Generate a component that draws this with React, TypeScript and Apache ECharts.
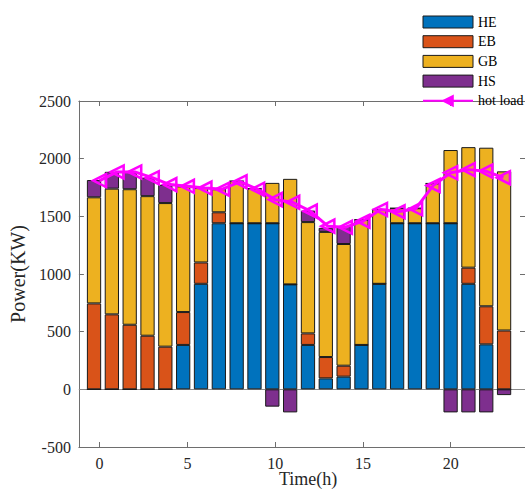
import React, { useEffect, useRef } from "react";
import * as echarts from "echarts";

const hours = [0,1,2,3,4,5,6,7,8,9,10,11,12,13,14,15,16,17,18,19,20,21,22,23];
const HE = [0,0,0,0,0,385,915,1440,1440,1440,1440,910,385,95,110,385,915,1440,1440,1440,1440,915,390,0];
const EB = [745,650,560,465,370,285,185,95,0,0,0,0,100,185,95,0,0,0,0,0,0,140,330,510];
const GB = [920,1090,1175,1210,1245,1090,645,200,365,300,350,915,965,1085,1055,1085,645,130,130,345,635,1045,1375,1380];
const HS = [150,146,152,160,158,0,0,0,0,0,-150,-200,100,35,150,0,0,0,0,0,-200,-200,-200,-50];
const hotLoad = [1810,1885,1885,1835,1775,1760,1745,1735,1800,1735,1645,1622,1545,1415,1405,1458,1560,1540,1565,1768,1878,1905,1892,1835];
const xTicks = [0,5,10,15,20];
const names = ["HE","EB","GB","HS","hot load"];
const colors = ["#0072BD","#D95319","#EDB120","#7E2F8E"];

const FONT = "'Liberation Serif', 'Times New Roman', serif";

// axis extents (hours) of the plot box
const X_MIN = -1.18;
const X_MAX = 24.23;
const GRID_LEFT = 73;
const GRID_WIDTH = 453;
const GRID_TOP = 101;
const GRID_HEIGHT = 346;

export default function App() {
  const ref = useRef<HTMLDivElement>(null);
  useEffect(() => {
    if (!ref.current) return;
    const chart = echarts.init(ref.current, null, { renderer: "svg" });
    const pxPerHour = GRID_WIDTH / (X_MAX - X_MIN);
    const barLeft = GRID_LEFT + (hours[0] - 0.5 - X_MIN) * pxPerHour;
    const barWidthPx = hours.length * pxPerHour;

    const barSeries = [HE, EB, GB, HS].map((arr, k) => ({
      name: names[k],
      type: "bar",
      stack: "total",
      xAxisIndex: 2,
      yAxisIndex: 2,
      barWidth: "80%",
      z: 2,
      data: arr,
      itemStyle: { color: colors[k], borderColor: "#1a1a1a", borderWidth: 1 },
    }));
    const axisLine = { show: true, onZero: false, lineStyle: { color: "#6e6e6e", width: 1 } };
    const tick = { show: true, inside: true, length: 5, lineStyle: { color: "#6e6e6e" } };
    chart.setOption({
      animation: false,
      grid: [
        { left: GRID_LEFT, top: GRID_TOP, width: GRID_WIDTH, height: GRID_HEIGHT, containLabel: false },
        { left: barLeft, top: GRID_TOP, width: barWidthPx, height: GRID_HEIGHT, containLabel: false },
      ],
      legend: {
        orient: "vertical",
        left: 417,
        top: 10,
        itemWidth: 50,
        itemHeight: 12,
        itemGap: 5.7,
        textStyle: { fontFamily: FONT, fontSize: 14, color: "#000" },
        data: [
          { name: "HE", icon: "rect", itemStyle: { borderColor: "#1a1a1a", borderWidth: 1 } },
          { name: "EB", icon: "rect", itemStyle: { borderColor: "#1a1a1a", borderWidth: 1 } },
          { name: "GB", icon: "rect", itemStyle: { borderColor: "#1a1a1a", borderWidth: 1 } },
          { name: "HS", icon: "rect", itemStyle: { borderColor: "#1a1a1a", borderWidth: 1 } },
          { name: "hot load", itemStyle: { color: "#FF00FF", borderColor: "#FF00FF" } },
        ],
      },
      xAxis: [
        {
          type: "value",
          gridIndex: 0,
          min: X_MIN,
          max: X_MAX,
          position: "bottom",
          axisLine,
          splitLine: { show: false },
          axisTick: { ...tick, customValues: xTicks },
          axisLabel: { customValues: xTicks, fontFamily: FONT, fontSize: 16, color: "#262626", margin: 8 },
        },
        {
          type: "value",
          gridIndex: 0,
          min: X_MIN,
          max: X_MAX,
          position: "top",
          axisLine,
          splitLine: { show: false },
          axisTick: { ...tick, customValues: xTicks },
          axisLabel: { show: false },
        },
        {
          type: "category",
          gridIndex: 1,
          data: hours.map(String),
          boundaryGap: true,
          show: false,
        },
      ],
      yAxis: [
        {
          type: "value",
          gridIndex: 0,
          min: -500,
          max: 2500,
          interval: 500,
          position: "left",
          axisLine,
          splitLine: { show: false },
          axisTick: tick,
          axisLabel: { fontFamily: FONT, fontSize: 16, color: "#262626", margin: 8, formatter: (v: number) => String(v) },
          name: "Power(KW)",
          nameLocation: "middle",
          nameGap: 44,
          nameTextStyle: { fontFamily: FONT, fontSize: 20, color: "#262626" },
        },
        {
          type: "value",
          gridIndex: 0,
          min: -500,
          max: 2500,
          interval: 500,
          position: "right",
          axisLine,
          splitLine: { show: false },
          axisTick: tick,
          axisLabel: { show: false },
        },
        {
          type: "value",
          gridIndex: 1,
          min: -500,
          max: 2500,
          interval: 500,
          show: false,
          splitLine: { show: false },
        },
      ],
      graphic: [
        {
          type: "text",
          left: 310 - 31,
          top: 470,
          style: { text: "Time(h)", font: `18px ${FONT}`, fill: "#262626" },
        },
      ],
      series: [
        ...barSeries,
        {
          name: "hot load",
          type: "line",
          xAxisIndex: 0,
          yAxisIndex: 0,
          data: hotLoad.map((v, i) => [hours[i], v]),
          z: 5,
          symbol: "triangle",
          symbolRotate: 90,
          symbolSize: 13,
          lineStyle: { color: "#FF00FF", width: 3 },
          itemStyle: { color: "rgba(255,0,255,0.15)", borderColor: "#FF00FF", borderWidth: 2.5 },
          markLine: {
            silent: true,
            symbol: "none",
            label: { show: false },
            z: 1,
            lineStyle: { color: "#8a8a8a", type: "solid", width: 1.2 },
            data: [{ yAxis: 0 }],
          },
        },
      ],
    });
    return () => chart.dispose();
  }, []);
  return (
    <div
      ref={ref}
      style={{ position: "fixed", left: 0, top: 0, width: 525, height: 489, background: "#fff" }}
    />
  );
}
